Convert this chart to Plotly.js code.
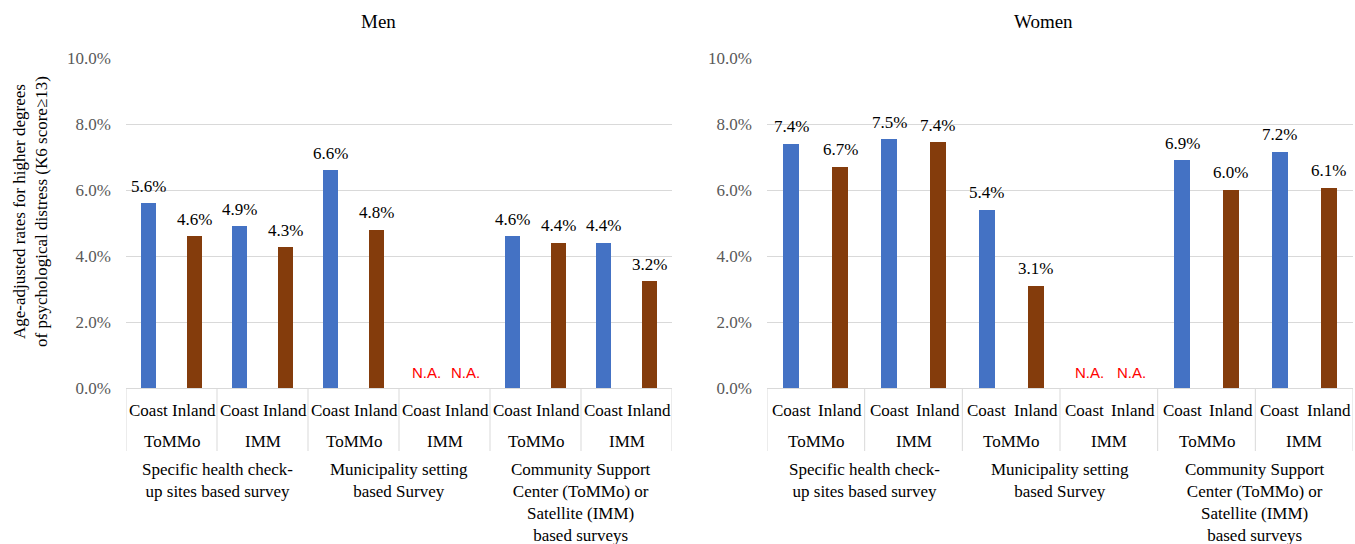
<!DOCTYPE html>
<html>
<head>
<meta charset="utf-8">
<script src="https://cdn.plot.ly/plotly-3.0.1.min.js"></script>
<style>html,body{margin:0;padding:0;background:#fff;}#chart{width:1355px;height:544px;}</style>
</head>
<body>
<div id="chart"></div>
<script>
// ---- data ----
const surveyGroups = [
  'Specific health check-<br>up sites based survey',
  'Municipality setting<br>based Survey',
  'Community Support<br>Center (ToMMo) or<br>Satellite (IMM)<br>based surveys'
];
const institutes = ['ToMMo', 'IMM', 'ToMMo', 'IMM', 'ToMMo', 'IMM'];
const areas = ['Coast', 'Inland'];
const panelTitles = ['Men', 'Women'];
const menCoast = [5.6, 4.9, 6.6, null, 4.6, 4.4];
const menInland = [4.6, 4.27, 4.8, null, 4.4, 3.24];
const womenCoast = [7.4, 7.54, 5.4, null, 6.9, 7.16];
const womenInland = [6.7, 7.44, 3.1, null, 6.0, 6.07];
const naText = 'N.A.';
const yTitle = 'Age-adjusted rates for higher degrees<br>of psychological distress (K6 score\u226513)';

// ---- style ----
const SERIF = 'Liberation Serif';
const SANS = 'Liberation Sans';
const BLUE = '#4472C4';
const BROWN = '#843C0C';
const GRID = '#d9d9d9';
const W = 1355, H = 544;
const py = v => (H - v) / H; // pixel row -> paper y

const panels = [
  {coast: menCoast, inland: menInland, xa: 'x', ya: 'y', dom: [126/W, 672/W], titleX: 378/W},
  {coast: womenCoast, inland: womenInland, xa: 'x2', ya: 'y2', dom: [767/W, 1353/W], titleX: 1043/W}
];

const traces = [];
const annotations = [];
const shapes = [];

panels.forEach((p, pi) => {
  const xc = p.coast.map((v, k) => 2 * k);
  const xi = p.inland.map((v, k) => 2 * k + 1);
  traces.push({type: 'bar', x: xc, y: p.coast, xaxis: p.xa, yaxis: p.ya, width: 0.33,
    marker: {color: BLUE}, name: areas[0], showlegend: false, hoverinfo: 'none'});
  traces.push({type: 'bar', x: xi, y: p.inland, xaxis: p.xa, yaxis: p.ya, width: 0.33,
    marker: {color: BROWN}, name: areas[1], showlegend: false, hoverinfo: 'none'});

  // value labels
  [[p.coast, xc, 5], [p.inland, xi, -2]].forEach(([vals, xs, naShift]) => {
    vals.forEach((v, k) => {
      if (v === null) {
        annotations.push({xref: p.xa, yref: p.ya, x: xs[k], y: 0, xanchor: 'center', yanchor: 'middle', yshift: 16,
          xshift: naShift, text: naText, showarrow: false, font: {family: SANS, size: 15, color: '#FF0000'}});
      } else {
        annotations.push({xref: p.xa, yref: p.ya, x: xs[k], y: v, xanchor: 'center', yanchor: 'middle', yshift: 17,
          text: v.toFixed(1) + '%', showarrow: false, font: {family: SERIF, size: 17, color: '#000'}});
      }
    });
  });

  // category axis level 1 & 2
  institutes.forEach((inst, k) => {
    areas.forEach((a, j) => {
      annotations.push({xref: p.xa, yref: 'paper', x: 2 * k + j, y: py(410), xanchor: 'center', yanchor: 'middle',
        text: a, showarrow: false, font: {family: SERIF, size: 17, color: '#000'}});
    });
    annotations.push({xref: p.xa, yref: 'paper', x: 2 * k + 0.5, y: py(441), xanchor: 'center', yanchor: 'middle',
      text: inst, showarrow: false, font: {family: SERIF, size: 17, color: '#000'}});
  });
  // level 3
  surveyGroups.forEach((g, k) => {
    annotations.push({xref: p.xa, yref: 'paper', x: 4 * k + 1.5, y: py(458), xanchor: 'center', yanchor: 'top',
      text: g, showarrow: false, align: 'center', font: {family: SERIF, size: 17, color: '#000'}});
  });
  // dividers
  for (let k = 0; k <= 6; k++) {
    shapes.push({type: 'line', xref: p.xa, yref: 'paper', x0: 2 * k - 0.5, x1: 2 * k - 0.5,
      y0: py(388), y1: py(451), line: {color: GRID, width: 1}});
  }
  // panel title
  annotations.push({xref: 'paper', yref: 'paper', x: p.titleX, y: py(22), xanchor: 'center', yanchor: 'middle',
    text: panelTitles[pi], showarrow: false, font: {family: SERIF, size: 19, color: '#000'}});
});

annotations.push({xref: 'paper', yref: 'paper', x: 31 / W, y: py(212), xanchor: 'center', yanchor: 'middle',
  textangle: -90, text: yTitle, showarrow: false, align: 'center', font: {family: SERIF, size: 17, color: '#000'}});

const yaxisBase = {
  range: [0, 10], domain: [py(388), py(58)], dtick: 2, tickformat: '.1f', ticksuffix: '%',
  showgrid: true, gridcolor: GRID, gridwidth: 1, zeroline: true, zerolinecolor: GRID, zerolinewidth: 1,
  showline: false, ticks: '', ticklabelstandoff: 14,
  tickfont: {family: SERIF, size: 17, color: '#595959'}, fixedrange: true
};
const xaxisBase = {
  range: [-0.5, 11.5], showticklabels: false, showgrid: false, zeroline: false, showline: false, ticks: '', fixedrange: true
};

const layout = {
  width: W, height: H,
  margin: {l: 0, r: 0, t: 0, b: 0},
  paper_bgcolor: '#fff', plot_bgcolor: '#fff',
  font: {family: SERIF},
  showlegend: false, bargap: 0,
  xaxis: Object.assign({}, xaxisBase, {domain: panels[0].dom, anchor: 'y'}),
  xaxis2: Object.assign({}, xaxisBase, {domain: panels[1].dom, anchor: 'y2'}),
  yaxis: Object.assign({}, yaxisBase, {anchor: 'x'}),
  yaxis2: Object.assign({}, yaxisBase, {anchor: 'x2'}),
  annotations: annotations,
  shapes: shapes
};

Plotly.newPlot('chart', traces, layout, {displayModeBar: false, staticPlot: true});
</script>
</body>
</html>
